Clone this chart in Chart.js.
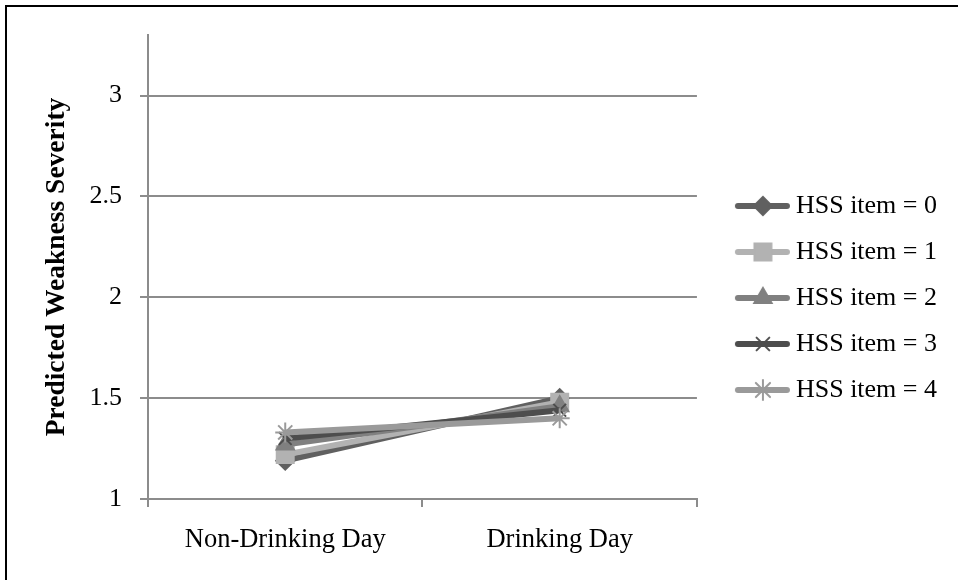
<!DOCTYPE html>
<html>
<head>
<meta charset="utf-8">
<script src="https://cdn.jsdelivr.net/npm/chart.js@4/dist/chart.umd.min.js"></script>
<style>
  html, body { margin: 0; padding: 0; background: #fff; }
  #wrap { position: relative; width: 958px; height: 580px; overflow: hidden; }
  #frame { position: absolute; left: 5px; top: 5px; width: 1000px; height: 1000px;
           border-left: 2px solid #000; border-top: 2px solid #000; }
  canvas { position: absolute; left: 0; top: 0; }
</style>
</head>
<body>
<div id="wrap">
  <div id="frame"></div>
  <canvas id="grafico" width="958" height="580"></canvas>
</div>
<script>
// Datos
const categorias = ['Non-Drinking Day', 'Drinking Day'];
const nombresSeries = ['HSS item = 0', 'HSS item = 1', 'HSS item = 2', 'HSS item = 3', 'HSS item = 4'];
const hss0 = [1.19, 1.50];
const hss1 = [1.22, 1.48];
const hss2 = [1.27, 1.46];
const hss3 = [1.30, 1.44];
const hss4 = [1.33, 1.40];
const valoresSeries = [hss0, hss1, hss2, hss3, hss4];
const ejeY = { min: 1, max: 3.3, paso: 0.5 };
const tituloEjeY = 'Predicted Weakness Severity';

// Estilo de cada serie (gris como en el original)
const estilos = [
    { color: '#606060', marcador: 'rectRot', radio: 9 },
    { color: '#b2b2b2', marcador: 'rect', radio: 12 },
    { color: '#808080', marcador: 'triangle', radio: 10 },
    { color: '#4d4d4d', marcador: 'crossRot', radio: 9 },
    { color: '#9a9a9a', marcador: 'star', radio: 10 }
];

const GRIS = '#8c8c8c';
const FUENTE = 'Liberation Serif';

// Icono de leyenda: línea gruesa con el marcador al medio
function iconoLeyenda(ds) {
    const c = document.createElement('canvas');
    c.width = 84;
    c.height = 26;
    const g = c.getContext('2d');
    g.strokeStyle = ds.borderColor;
    g.fillStyle = ds.borderColor;
    g.lineWidth = 6;
    g.lineCap = 'round';
    g.beginPath();
    g.moveTo(30, 13);
    g.lineTo(79, 13);
    g.stroke();
    if (Chart.helpers && Chart.helpers.drawPoint) {
        g.lineWidth = 2;
        Chart.helpers.drawPoint(g, {
            pointStyle: ds.pointStyle,
            radius: ds.pointRadius,
            rotation: 0,
            borderWidth: 2
        }, 55, 13);
    }
    return c;
}

const datasets = nombresSeries.map((nombre, i) => ({
    label: nombre,
    data: valoresSeries[i],
    borderColor: estilos[i].color,
    backgroundColor: estilos[i].color,
    borderWidth: 6,
    tension: 0,
    pointStyle: estilos[i].marcador,
    pointRadius: estilos[i].radio,
    pointHoverRadius: estilos[i].radio,
    pointBackgroundColor: estilos[i].color,
    pointBorderColor: estilos[i].color,
    pointBorderWidth: 2,
    order: nombresSeries.length - 1 - i // la última serie queda encima
}));

document.addEventListener('DOMContentLoaded', () => {
    const ctx = document.getElementById('grafico');

    new Chart(ctx, {
        type: 'line',
        data: { labels: categorias, datasets: datasets },
        options: {
            responsive: false,
            animation: false,
            layout: { padding: { left: 40, top: 35, right: 11, bottom: 19 } },
            plugins: {
                tooltip: { enabled: false },
                legend: {
                    position: 'right',
                    maxWidth: 400, // evita el recorte del texto
                    labels: {
                        usePointStyle: true,
                        pointStyleWidth: 66,
                        padding: 20,
                        color: '#000',
                        font: { family: FUENTE, size: 26 },
                        generateLabels: chart => chart.data.datasets.map((ds, i) => ({
                            text: ds.label,
                            pointStyle: iconoLeyenda(ds),
                            fillStyle: ds.borderColor,
                            strokeStyle: ds.borderColor,
                            lineWidth: 0,
                            hidden: false,
                            datasetIndex: i,
                            fontColor: '#000'
                        }))
                    }
                }
            },
            scales: {
                x: {
                    offset: true,
                    afterFit: scale => { scale.height = 62; },
                    border: { color: GRIS, width: 2 },
                    grid: { offset: true, drawOnChartArea: false, drawTicks: true, tickLength: 8, color: GRIS, lineWidth: 2 },
                    ticks: { color: '#000', padding: 17, font: { family: FUENTE, size: 26.5 } }
                },
                y: {
                    min: ejeY.min,
                    max: ejeY.max,
                    afterFit: scale => { scale.width = 108; },
                    border: { color: GRIS, width: 2 },
                    grid: { color: GRIS, lineWidth: 2, tickLength: 8 },
                    ticks: {
                        stepSize: ejeY.paso,
                        includeBounds: false,
                        padding: 18,
                        color: '#000',
                        font: { family: FUENTE, size: 26 },
                        callback: v => String(Math.round(v * 10) / 10)
                    },
                    title: {
                        display: true,
                        text: tituloEjeY,
                        color: '#000',
                        padding: { top: 0, bottom: 0 },
                        font: { family: FUENTE, size: 27.5, weight: 'bold' }
                    }
                }
            }
        }
    });
});
</script>
</body>
</html>
